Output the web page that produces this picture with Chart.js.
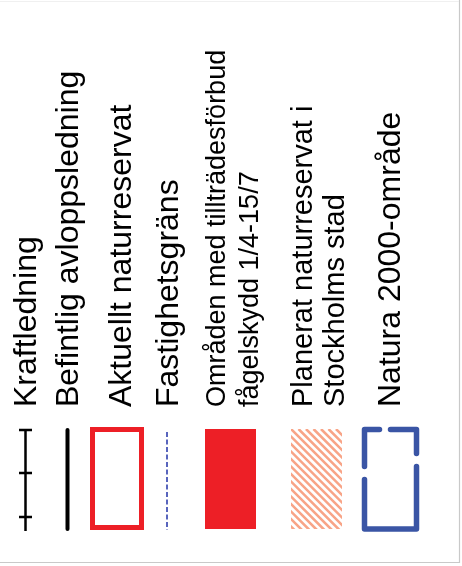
<!DOCTYPE html>
<html>
<head>
<meta charset="utf-8">
<script src="https://cdn.jsdelivr.net/npm/chart.js@4"></script>
<style>
  html, body { margin: 0; padding: 0; background: #fff; }
  #wrap { width: 462px; height: 566px; position: relative; }
</style>
</head>
<body>
<div id="wrap"><canvas id="legend"></canvas></div>
<script>
// legend entries, each one is a list of text lines
const legendLabels = [
  ['Kraftledning'],
  ['Befintlig avloppsledning'],
  ['Aktuellt naturreservat'],
  ['Fastighetsgräns'],
  ['Områden med tillträdesförbud', 'fågelskydd 1/4-15/7'],
  ['Planerat naturreservat i', 'Stockholms stad'],
  ['Natura 2000-område']
];
const symbolKinds = ['powerline', 'pipe', 'reserve', 'boundary', 'birdArea', 'plannedReserve', 'natura'];

// layout of the rotated legend (page coordinates)
const textStartY = 407;
const baselines = [36, 78, 131, 178, 225, 312, 400];
const lineGap = [0, 0, 0, 0, 33, 32, 0];
const fontSizes = [32, 32, 32, 32, 27, 29, 32];
const symTop = 427, symBottom = 531;

const RED = '#ed1f26';
const BLUE = '#3a55a5';

function drawSymbol(ctx, kind) {
  ctx.save();
  ctx.lineCap = 'butt';
  switch (kind) {
    case 'powerline': {
      ctx.strokeStyle = '#000';
      ctx.lineWidth = 2.5;
      ctx.beginPath();
      ctx.moveTo(25.5, 429); ctx.lineTo(25.5, 531);
      [430, 473, 517].forEach(y => { ctx.moveTo(19, y); ctx.lineTo(32, y); });
      ctx.stroke();
      break;
    }
    case 'pipe': {
      ctx.strokeStyle = '#000';
      ctx.lineWidth = 4;
      ctx.lineCap = 'round';
      ctx.beginPath();
      ctx.moveTo(67.5, 430); ctx.lineTo(67.5, 529);
      ctx.stroke();
      break;
    }
    case 'reserve': {
      ctx.strokeStyle = RED;
      ctx.lineWidth = 5;
      ctx.strokeRect(92.5, 429.5, 49, 98);
      break;
    }
    case 'boundary': {
      ctx.strokeStyle = '#5865bd';
      ctx.lineWidth = 2;
      ctx.setLineDash([5, 2.5]);
      ctx.beginPath();
      ctx.moveTo(167, 432); ctx.lineTo(167, 530);
      ctx.stroke();
      break;
    }
    case 'birdArea': {
      ctx.fillStyle = RED;
      ctx.fillRect(205, 429, 51, 100);
      break;
    }
    case 'plannedReserve': {
      ctx.beginPath();
      ctx.rect(291, 429, 51, 100);
      ctx.clip();
      ctx.strokeStyle = '#f8a487';
      ctx.lineWidth = 2.6;
      ctx.beginPath();
      for (let s = -120; s < 80; s += 7.5) {
        ctx.moveTo(291 + s, 429);
        ctx.lineTo(291 + s + 110, 539);
      }
      ctx.stroke();
      break;
    }
    case 'natura': {
      ctx.strokeStyle = BLUE;
      ctx.lineWidth = 5.5;
      ctx.lineCap = 'round';
      ctx.lineJoin = 'round';
      const l = 364.5, r = 416.5, t = 429.5, b = 529;
      ctx.beginPath();
      ctx.moveTo(390.5, t); ctx.lineTo(r, t); ctx.lineTo(r, 453.5);
      ctx.moveTo(r, 466.5); ctx.lineTo(r, b); ctx.lineTo(l, b); ctx.lineTo(l, 479.5);
      ctx.moveTo(l, 466.5); ctx.lineTo(l, t); ctx.lineTo(379.5, t);
      ctx.stroke();
      break;
    }
  }
  ctx.restore();
}

const rotatedLegend = {
  id: 'rotatedLegend',
  afterDraw(chart) {
    const ctx = chart.ctx;
    ctx.save();
    ctx.fillStyle = '#fff';
    ctx.fillRect(0, 0, chart.width, chart.height);

    // frame
    ctx.strokeStyle = '#c9c9c9';
    ctx.lineWidth = 1.2;
    ctx.beginPath();
    ctx.moveTo(459.5, 0); ctx.lineTo(459.5, 562.5); ctx.lineTo(0, 562.5);
    ctx.stroke();
    ctx.strokeStyle = '#f0f0f0';
    ctx.beginPath();
    ctx.moveTo(0, 1.5); ctx.lineTo(459, 1.5);
    ctx.stroke();

    chart.data.labels.forEach((lines, i) => {
      drawSymbol(ctx, symbolKinds[i]);
      ctx.fillStyle = '#000';
      ctx.font = fontSizes[i] + 'px "Liberation Sans", Arial, sans-serif';
      ctx.textAlign = 'left';
      ctx.textBaseline = 'alphabetic';
      lines.forEach((line, j) => {
        ctx.save();
        ctx.translate(baselines[i] + j * lineGap[i], textStartY);
        ctx.rotate(-Math.PI / 2);
        ctx.fillText(line, 0, 0);
        ctx.restore();
      });
    });
    ctx.restore();
  }
};

new Chart(document.getElementById('legend'), {
  type: 'bar',
  data: { labels: legendLabels, datasets: [] },
  options: {
    responsive: true,
    maintainAspectRatio: false,
    animation: false,
    events: [],
    scales: { x: { display: false }, y: { display: false } },
    plugins: { legend: { display: false }, tooltip: { enabled: false } }
  },
  plugins: [rotatedLegend]
});
</script>
</body>
</html>
